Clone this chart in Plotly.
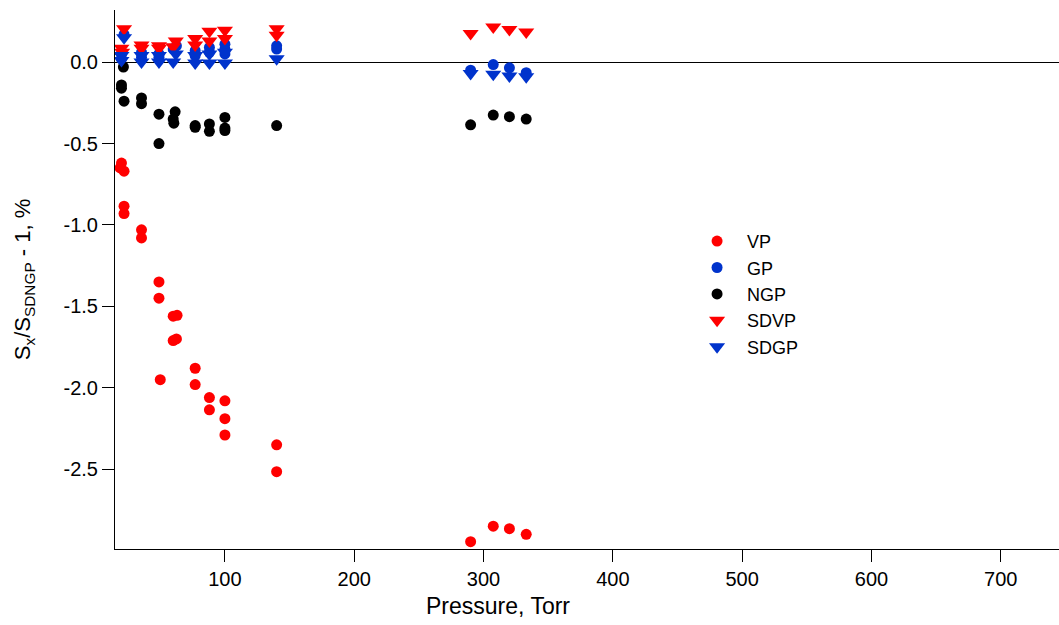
import plotly.graph_objects as go

# Relative sensitivity deviations vs. pressure for each gauge-correction method
VP_p = [19, 20, 22, 22, 22, 35.5, 35.5, 49, 49, 50, 60, 63, 60, 62.5, 77, 77, 88, 88,
        100, 100, 100, 140, 140, 290, 307.5, 320, 333]
VP_v = [-0.65, -0.62, -0.67, -0.885, -0.93, -1.03, -1.08, -1.35, -1.45, -1.95, -1.56, -1.555,
        -1.71, -1.70, -1.88, -1.98, -2.06, -2.135, -2.08, -2.19, -2.29, -2.35, -2.515,
        -2.945, -2.85, -2.865, -2.90]

GP_p = [20, 20, 22, 35.5, 35.5, 49, 49, 60, 62.5, 77, 77, 88, 88, 100, 100, 100, 140, 140,
        290, 307.5, 320, 333]
GP_v = [0.02, 0.05, 0.17, 0.06, 0.03, 0.05, 0.03, 0.08, 0.10, 0.07, 0.04, 0.09, 0.06, 0.11,
        0.08, 0.05, 0.10, 0.08, -0.05, -0.015, -0.035, -0.065]

NGP_p = [20, 20, 21.5, 22, 35.5, 35.5, 49, 49, 61.5, 60, 60.5, 77, 77, 88, 88, 100, 100, 100,
         140, 290, 307.5, 320, 333]
NGP_v = [-0.14, -0.16, -0.03, -0.24, -0.22, -0.255, -0.32, -0.50, -0.305, -0.35, -0.375,
         -0.39, -0.40, -0.38, -0.425, -0.34, -0.405, -0.42, -0.39, -0.385, -0.325, -0.335, -0.35]

SDVP_p = [20, 20.5, 22, 35.5, 35.5, 49, 49, 60, 62, 77, 77, 88, 88, 100, 100, 140, 140,
          290, 307.5, 320, 333]
SDVP_v = [0.085, 0.06, 0.205, 0.105, 0.085, 0.10, 0.085, 0.095, 0.13, 0.145, 0.105, 0.19,
          0.13, 0.195, 0.145, 0.205, 0.165, 0.175, 0.215, 0.20, 0.185]

SDGP_p = [20, 20, 22, 35.5, 35.5, 49, 49, 60, 62, 77, 77, 88, 88, 100, 100, 140,
          290, 307.5, 320, 333]
SDGP_v = [0.01, 0.04, 0.15, 0.0, 0.04, 0.0, 0.04, 0.0, 0.05, -0.005, 0.04, -0.005, 0.05,
          -0.005, 0.06, 0.02, -0.07, -0.075, -0.085, -0.09]

RED = "#FF0000"
BLUE = "#0033CC"
BLACK = "#000000"

series = [
    ("VP", VP_p, VP_v, RED, "circle", 11),
    ("GP", GP_p, GP_v, BLUE, "circle", 11),
    ("NGP", NGP_p, NGP_v, BLACK, "circle", 11),
    ("SDVP", SDVP_p, SDVP_v, RED, "triangle-down", 14),
    ("SDGP", SDGP_p, SDGP_v, BLUE, "triangle-down", 14),
]

fig = go.Figure()
for name, px, vals, color, symbol, size in series:
    fig.add_trace(go.Scatter(
        x=px, y=vals, mode="markers", name=name,
        marker=dict(color=color, symbol=symbol, size=size, line=dict(width=0)),
    ))

FONT = "Liberation Sans, Arial, sans-serif"

fig.update_layout(
    width=1059, height=625,
    margin=dict(l=115, r=0, t=10, b=76),
    paper_bgcolor="white", plot_bgcolor="white",
    font=dict(family=FONT, size=20, color="black"),
    legend=dict(
        x=0.606, y=0.605, xanchor="left", yanchor="top",
        font=dict(size=18), itemwidth=50, bgcolor="rgba(0,0,0,0)",
        tracegroupgap=0,
    ),
)

# x-axis title placed as an annotation, centred under the 250–370 Torr span
fig.add_annotation(
    text="Pressure, Torr", xref="paper", yref="paper",
    x=0.4057, y=-0.1066, xanchor="center", yanchor="middle",
    showarrow=False, font=dict(size=23),
)

fig.update_xaxes(
    range=[15, 745], tickvals=[100, 200, 300, 400, 500, 600, 700],
    ticks="outside", ticklen=12, tickcolor="black", tickwidth=1,
    showline=True, linecolor="black", linewidth=1,
    showgrid=False, zeroline=False,
    tickfont=dict(size=20),
)
fig.update_yaxes(
    range=[-2.99, 0.32], tickvals=[0, -0.5, -1.0, -1.5, -2.0, -2.5],
    ticktext=["0.0", "-0.5", "-1.0", "-1.5", "-2.0", "-2.5"],
    ticks="outside", ticklen=12, tickcolor="black", tickwidth=1,
    showline=True, linecolor="black", linewidth=1,
    showgrid=False, zeroline=True, zerolinecolor="black", zerolinewidth=1,
    title=dict(text="S<sub>x</sub>/S<sub>SDNGP</sub> - 1, %", font=dict(size=22), standoff=26),
    tickfont=dict(size=20),
)

fig.write_html("out.html")
